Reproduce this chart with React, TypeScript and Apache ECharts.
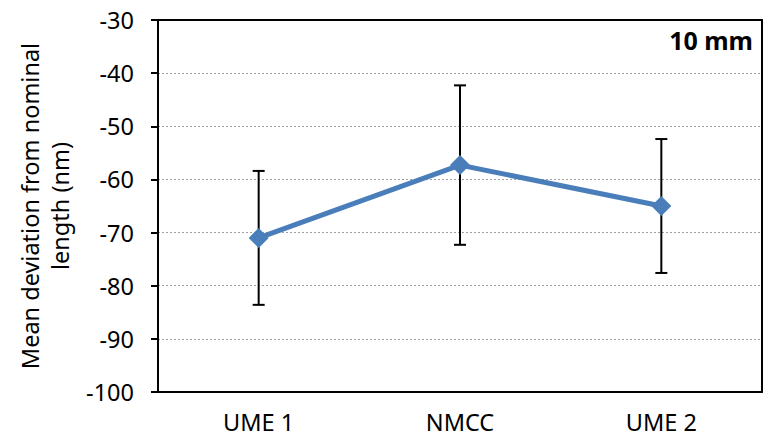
import React, { useEffect, useRef } from "react";
import * as echarts from "echarts";

const categories = ["UME 1", "NMCC", "UME 2"];
const means = [-71.0, -57.3, -65.0];
const uncertainties = [12.6, 15.0, 12.6];
const yTicks = { min: -100, max: -30, interval: 10 };
const panelLabel = "10 mm";
const yTitle = "Mean deviation from nominal\nlength (nm)";

const FONT = "Noto Sans";

export default function App() {
  const ref = useRef<HTMLDivElement>(null);
  useEffect(() => {
    if (!ref.current) return;
    const chart = echarts.init(ref.current, null, { renderer: "svg" });
    const errData = categories.map((_, i) => [i, means[i] - uncertainties[i], means[i] + uncertainties[i]]);
    chart.setOption({
      animation: false,
      backgroundColor: "#ffffff",
      grid: { left: 158, right: 9, top: 20, bottom: 47, containLabel: false },
      xAxis: [
        {
          type: "category",
          data: categories,
          boundaryGap: true,
          axisLine: { show: true, lineStyle: { color: "#000", width: 2 } },
          axisTick: { show: false },
          axisLabel: { color: "#000", fontFamily: FONT, fontSize: 23.5, margin: 18 },
          splitLine: { show: false },
        },
        {
          type: "category",
          data: categories,
          position: "top",
          axisLine: { show: true, lineStyle: { color: "#000", width: 2 } },
          axisTick: { show: false },
          axisLabel: { show: false },
        },
      ],
      yAxis: [
        {
          type: "value",
          min: yTicks.min,
          max: yTicks.max,
          interval: yTicks.interval,
          name: yTitle,
          nameLocation: "middle",
          nameGap: 80,
          nameTextStyle: { color: "#000", fontFamily: FONT, fontSize: 23.5, lineHeight: 30, align: "center" },
          axisLine: { show: true, lineStyle: { color: "#000", width: 2 } },
          axisTick: { show: true, inside: false, length: 7, lineStyle: { color: "#000", width: 2 } },
          axisLabel: { color: "#000", fontFamily: FONT, fontSize: 23.5, margin: 24 },
          splitLine: { show: true, lineStyle: { color: "#a0a0a0", type: [2, 2], width: 1 } },
        },
        {
          type: "value",
          position: "right",
          min: yTicks.min,
          max: yTicks.max,
          interval: yTicks.interval,
          axisLine: { show: true, lineStyle: { color: "#000", width: 2 } },
          axisTick: { show: false },
          axisLabel: { show: false },
          splitLine: { show: false },
        },
      ],
      graphic: [
        {
          type: "text",
          right: 18,
          top: 27,
          style: { text: panelLabel, fill: "#000", font: `bold 25px "${FONT}"` },
        },
      ],
      series: [
        {
          type: "custom",
          z: 1,
          data: errData,
          renderItem: (params: any, api: any) => {
            const x = api.value(0);
            const lo = api.coord([x, api.value(1)]);
            const hi = api.coord([x, api.value(2)]);
            const cap = 6;
            const style = { stroke: "#000", lineWidth: 2 };
            return {
              type: "group",
              children: [
                { type: "line", shape: { x1: lo[0], y1: lo[1], x2: hi[0], y2: hi[1] }, style },
                { type: "line", shape: { x1: lo[0] - cap, y1: lo[1], x2: lo[0] + cap, y2: lo[1] }, style },
                { type: "line", shape: { x1: hi[0] - cap, y1: hi[1], x2: hi[0] + cap, y2: hi[1] }, style },
              ],
            };
          },
        },
        {
          type: "line",
          z: 3,
          data: means,
          symbol: "diamond",
          symbolSize: 20,
          lineStyle: { color: "#4A7EBB", width: 5 },
          itemStyle: { color: "#4A7EBB" },
        },
      ],
    });
    return () => chart.dispose();
  }, []);
  return <div ref={ref} style={{ width: 771, height: 439, position: "absolute", left: 0, top: 0 }} />;
}
